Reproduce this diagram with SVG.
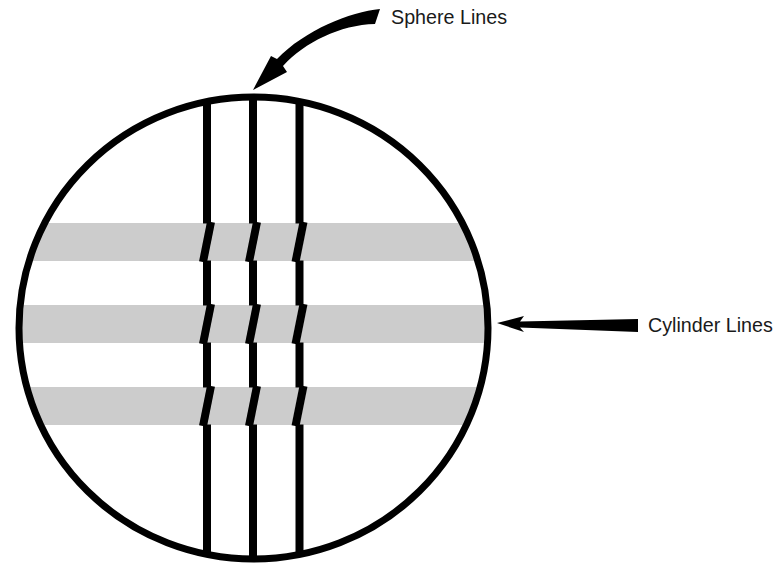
<svg xmlns="http://www.w3.org/2000/svg" width="779" height="563" viewBox="0 0 779 563">
  <style>
    .band { fill: #cccccc; }
    .vl { stroke: #000; stroke-width: 8; fill: none; stroke-linecap: butt; }
    .outline { fill: none; stroke: #000; stroke-width: 7; }
    .label { font-family: "Liberation Sans", Arial, Helvetica, sans-serif; font-size: 19.7px; fill: #1a1a1a; }
    .arrow { fill: #000; }
  </style>
  <defs>
    <clipPath id="inside">
      <ellipse cx="253.5" cy="328" rx="234.5" ry="231"/>
    </clipPath>
    <g id="vline">
      <line class="vl" x1="0" y1="80" x2="0" y2="223.5"/>
      <line class="vl" x1="4" y1="222" x2="-4" y2="262"/>
      <line class="vl" x1="0" y1="260.5" x2="0" y2="305.5"/>
      <line class="vl" x1="4" y1="304" x2="-4" y2="344"/>
      <line class="vl" x1="0" y1="342.5" x2="0" y2="387.5"/>
      <line class="vl" x1="4" y1="386" x2="-4" y2="426"/>
      <line class="vl" x1="0" y1="424.5" x2="0" y2="575"/>
    </g>
  </defs>

  <g id="sphere">
    <g clip-path="url(#inside)">
      <g id="bands">
        <rect class="band" x="0" y="223" width="500" height="38"/>
        <rect class="band" x="0" y="305" width="500" height="38"/>
        <rect class="band" x="0" y="387" width="500" height="38"/>
      </g>
      <g id="sphere-lines">
        <use href="#vline" x="207" y="0"/>
        <use href="#vline" x="253" y="0"/>
        <use href="#vline" x="299.5" y="0"/>
      </g>
    </g>
    <ellipse class="outline" cx="253.5" cy="328" rx="234.5" ry="231"/>
  </g>

  <g id="label-sphere">
    <text class="label" x="391" y="24">Sphere Lines</text>
  </g>
  <g id="label-cylinder">
    <text class="label" x="648" y="332">Cylinder Lines</text>
  </g>

  <g id="connectors">
    <path class="arrow" d="M380,9 C350,12 305,30 277,59 L271,56 L253,90 L287,72 L283,66 C305,42 340,25 375,24 Z"/>
    <path class="arrow" d="M638,319 L520,321.5 L524,316 L497,323 L524,332 L520,327.5 L638,332 Z"/>
  </g>
</svg>
